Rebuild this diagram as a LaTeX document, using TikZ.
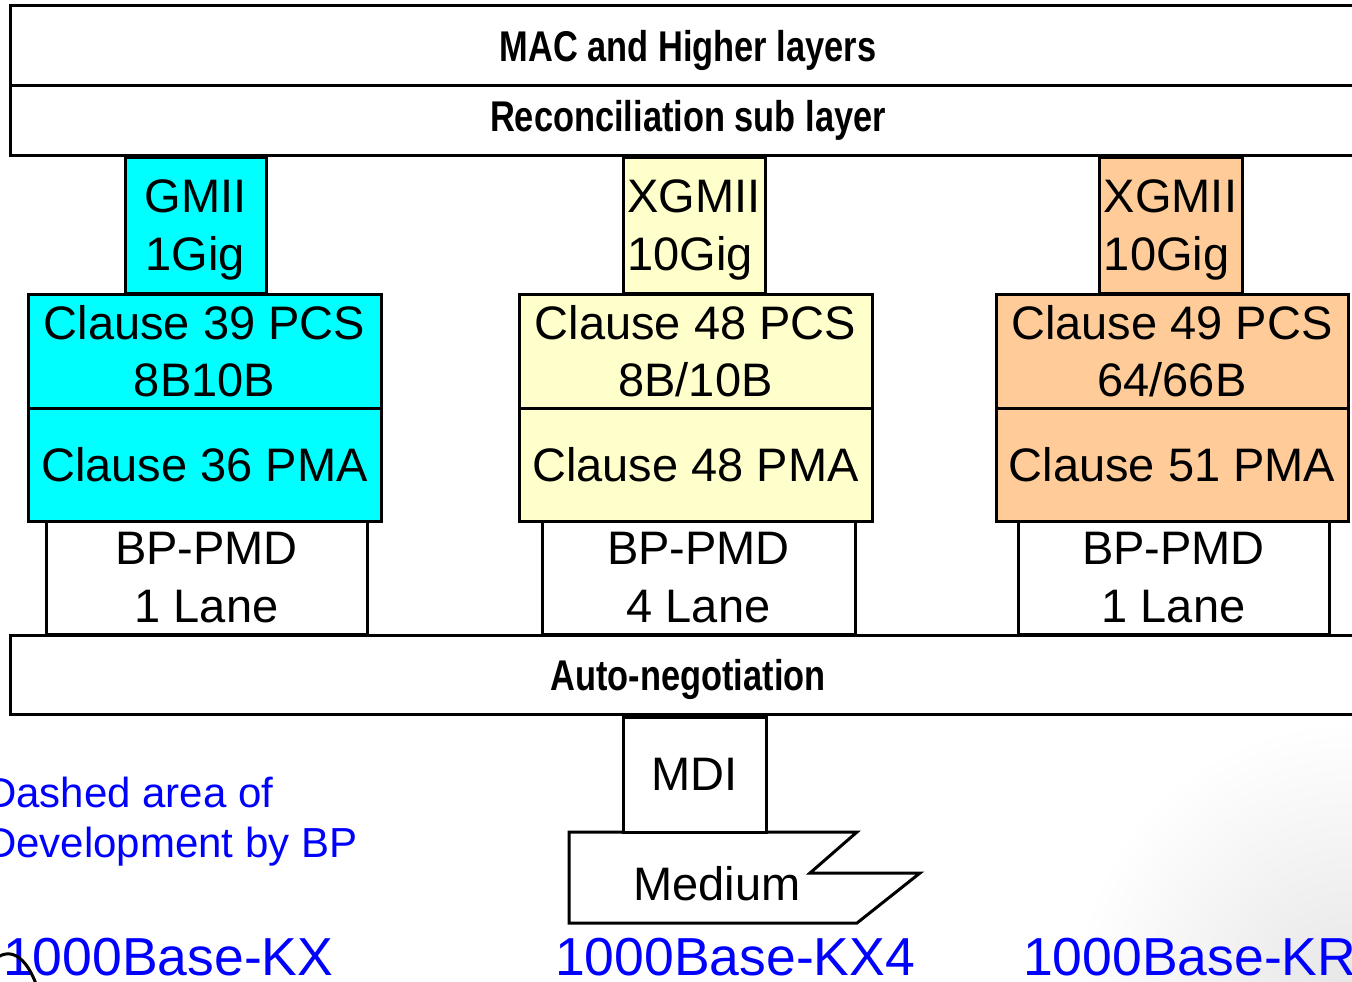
\documentclass[tikz,border=0pt]{standalone}
\usepackage{fontspec}
\setmainfont{Liberation Sans}
\newfontfamily\narrowfont[FakeStretch=0.8]{Liberation Sans}
\definecolor{cyanfill}{HTML}{00FFFF}
\definecolor{yelfill}{HTML}{FFFFCC}
\definecolor{orfill}{HTML}{FFCC99}
\definecolor{bluetxt}{HTML}{0000FF}
\begin{document}
\begin{tikzpicture}[x=1pt,y=-1pt,
  box/.style={draw, line width=3pt, inner sep=0pt, align=center, font=\fontsize{47}{57.5}\selectfont},
  bar/.style={box, fill=white, font=\narrowfont\bfseries\fontsize{43}{50}\selectfont},
  bluelabel/.style={text=bluetxt, inner sep=0pt, anchor=base west},
  midlabel/.style={bluelabel, font=\fontsize{42}{50}\selectfont},
  biglabel/.style={bluelabel, font=\fontsize{53.5}{60}\selectfont}]

\useasboundingbox (0,0) rectangle (1352,982);
\fill[white] (0,0) rectangle (1352,982);
\shade[inner color=black!10, outer color=white] (1352,1000) circle (280);
\clip (0,0) rectangle (1352,982);

% top bars
\node[bar, text depth=0pt, minimum width=1356, minimum height=79] (mac) at (688,45.5) {MAC and Higher layers};
\node[bar, minimum width=1356, minimum height=70] (rs) at (688,120) {Reconciliation sub layer};

% left column
\node[box, text depth=0pt, fill=cyanfill, minimum width=141, minimum height=136] (gmii) at (195.5,225) {GMII\\1Gig};
\node[box, fill=cyanfill, minimum width=353, minimum height=114] (pcs39) at (204.5,351) {Clause 39 PCS\\8B10B};
\node[box, fill=cyanfill, minimum width=353, minimum height=113] (pma36) at (204.5,464.5) {Clause 36 PMA};
\node[box, fill=white, minimum width=321, minimum height=113] (pmd1) at (206.5,577.5) {BP-PMD\\1 Lane};

% middle column
\node[box, text depth=0pt, fill=yelfill, align=left, minimum width=142, minimum height=136] (xgmii1) at (694,225) {XGMII\\10Gig};
\node[box, fill=yelfill, minimum width=353, minimum height=114] (pcs48) at (695.5,351) {Clause 48 PCS\\8B/10B};
\node[box, fill=yelfill, minimum width=353, minimum height=113] (pma48) at (695.5,464.5) {Clause 48 PMA};
\node[box, fill=white, minimum width=313, minimum height=113] (pmd4) at (698.5,577.5) {BP-PMD\\4 Lane};

% right column
\node[box, text depth=-6pt, fill=orfill, align=left, minimum width=143, minimum height=136] (xgmii2) at (1170.5,225) {XGMII\\10Gig};
\node[box, fill=orfill, minimum width=352, minimum height=114] (pcs49) at (1172,351) {Clause 49 PCS\\64/66B};
\node[box, fill=orfill, minimum width=352, minimum height=113] (pma51) at (1172,464.5) {Clause 51 PMA};
\node[box, fill=white, minimum width=311, minimum height=113] (pmd1r) at (1173.5,577.5) {BP-PMD\\1 Lane};

% auto-negotiation
\node[bar, text depth=0pt, minimum width=1356, minimum height=79] (an) at (688,674.5) {Auto-negotiation};

% medium and MDI
\draw[line width=3pt, line join=miter, fill=white] (569,832) -- (857,832) -- (810,873) -- (920,873) -- (857,923) -- (569,923) -- cycle;
\node[font=\fontsize{47}{57}\selectfont, inner sep=0pt, anchor=base] (medium) at (717,900) {Medium};
\node[box, fill=white, minimum width=143, minimum height=115] (mdi) at (694.5,774.5) {MDI};

% blue labels
\node[midlabel] (dashed1) at (-14,807) {Dashed area of};
\node[midlabel] (dashed2) at (-14,857) {Development by BP};
\node[biglabel] (kx) at (3,975) {1000Base-KX};
\node[biglabel] (kx4) at (555,975) {1000Base-KX4};
\node[biglabel] (kr) at (1023,975) {1000Base-KR};

% stray arc at bottom left
\draw[line width=3pt] (-2,957) .. controls (14,947) and (28,962) .. (36,984);
\end{tikzpicture}
\end{document}
